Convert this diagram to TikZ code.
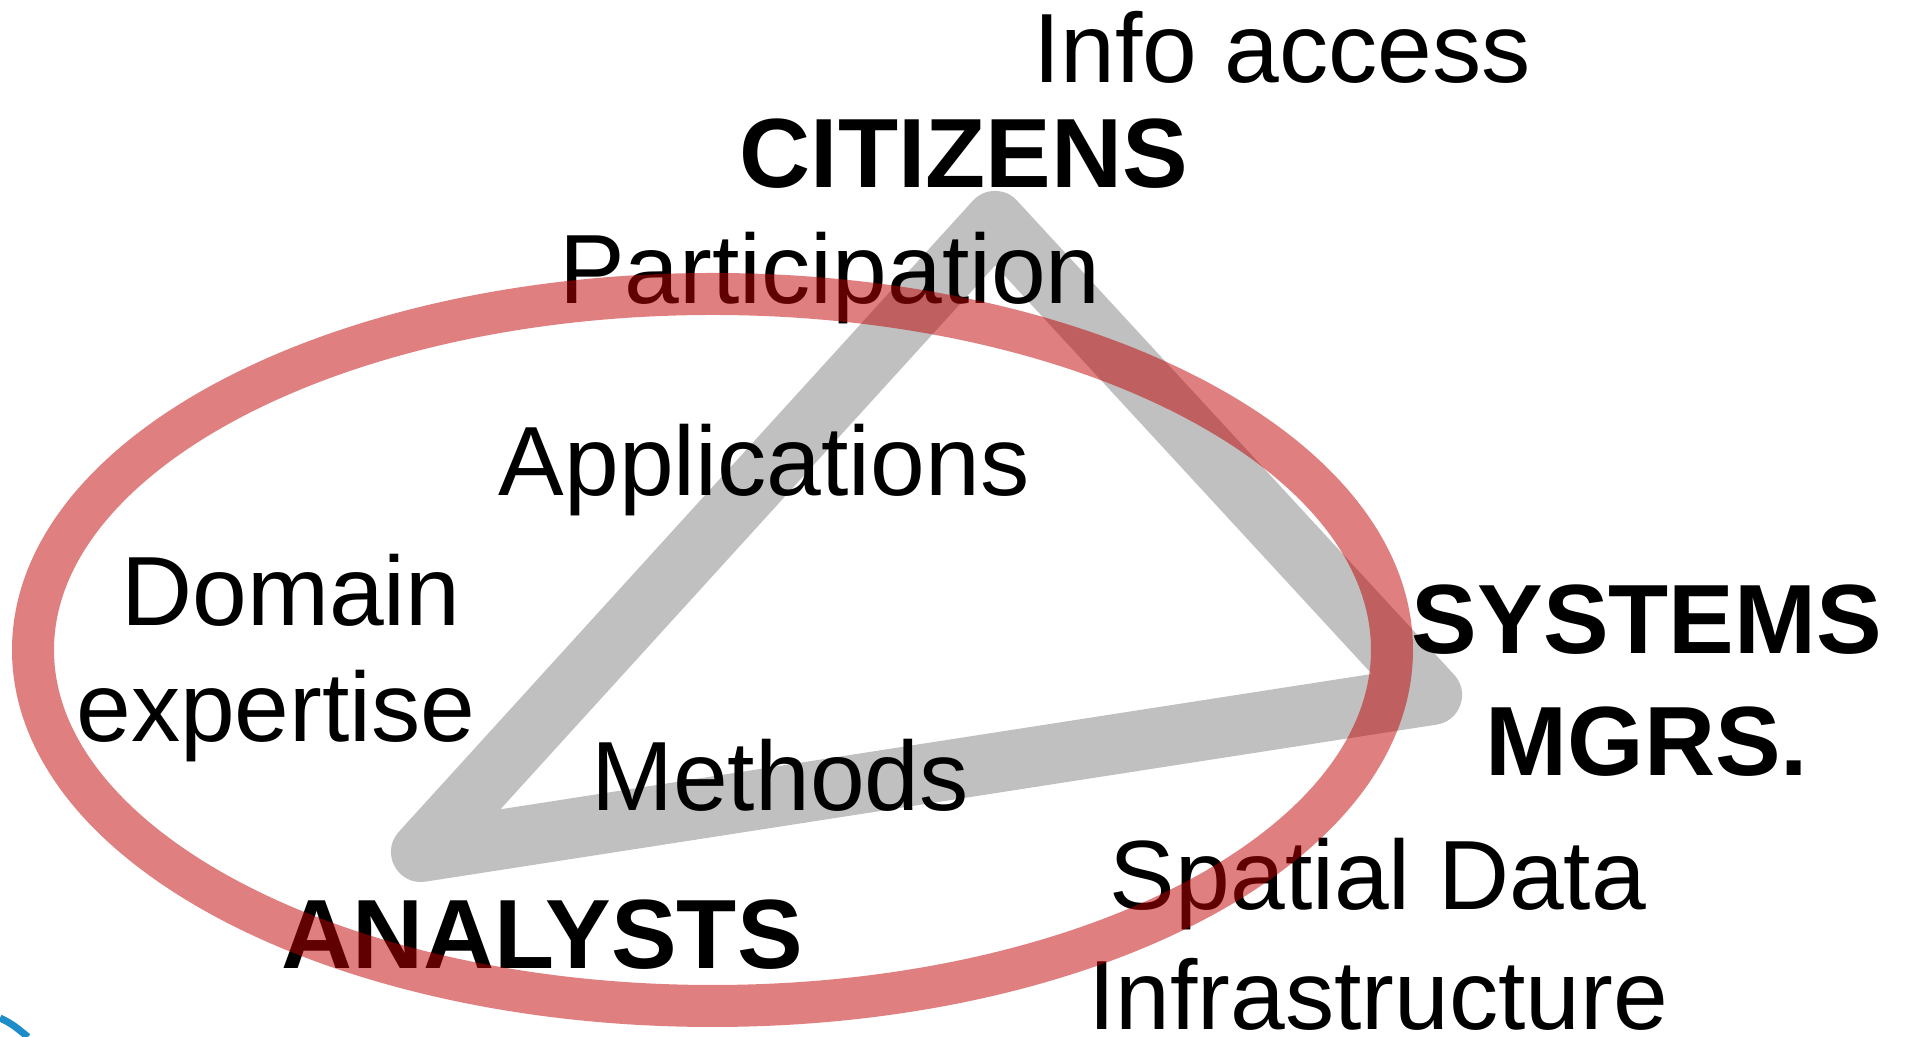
\documentclass[tikz,border=0pt]{standalone}
\usepackage{fontspec}
\setmainfont{Liberation Sans}
\definecolor{trigray}{RGB}{192,192,192}
\definecolor{ringred}{RGB}{192,0,0}
\definecolor{logoblue}{RGB}{30,140,200}
\begin{document}
\begin{tikzpicture}
        \tikzstyle{txt}=[anchor=base,inner sep=0pt,font=\fontsize{28}{34}\selectfont]
        \tikzstyle{role}=[txt,font=\fontsize{28}{34}\selectfont\bfseries]
        \tikzstyle{tri}=[draw=trigray,line width=0.6cm,line join=round]
        \tikzstyle{ring}=[draw=ringred,line width=0.42cm,opacity=0.5]
        \useasboundingbox (0,0) rectangle (19.07,10.37);
       \begin{scope}
         \coordinate (cit) at (9.95,8.16);
         \coordinate (ana) at (4.21,1.85);
         \coordinate (sys) at (14.32,3.42);
         \draw[tri] (cit) -- (ana) -- (sys) -- cycle;

         \node [txt] (info) at (12.82,9.54) {Info access};
         \node [role] (citizens) at (9.64,8.49) {CITIZENS};
         \node [txt] (particip) at (8.30,7.33) {Participation};
         \node [txt] (apps) at (7.64,5.41) {Applications};
         \node [txt] (domain) at (2.91,4.11) {Domain};
         \node [txt] (expert) at (2.76,2.95) {expertise};
         \node [txt] (methods) at (7.80,2.26) {Methods};
         \node [role] (analysts) at (5.42,0.68) {ANALYSTS};
         \node [role] (systems) at (16.47,3.83) {SYSTEMS};
         \node [role] (mgrs) at (16.47,2.61) {MGRS.};
         \node [txt] (spatial) at (13.78,1.27) {Spatial Data};
         \node [txt] (infra) at (13.78,0.07) {Infrastructure};

         \draw[ring] (7.125,3.87) ellipse [x radius=6.795cm, y radius=3.56cm];

         % cut-off logo corner
         \clip (0,0) rectangle (1,1);
         \draw[logoblue,line width=2pt] (0,0.19) .. controls (0.12,0.13) .. (0.28,0);
        \end{scope}
      \end{tikzpicture}
\end{document}
